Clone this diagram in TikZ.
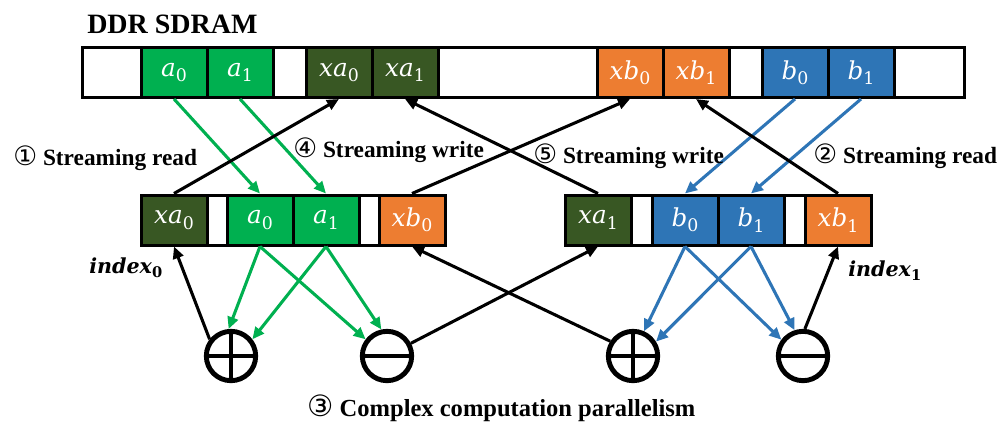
\documentclass[tikz,border=0pt]{standalone}
\usepackage{fontspec}
\setmainfont{Liberation Serif}
\newfontfamily\circfont{DejaVu Sans}
\newfontfamily\cellfont{DejaVu Serif}
\usetikzlibrary{arrows.meta}
\definecolor{cgreen}{HTML}{00B050}
\definecolor{cdkgreen}{HTML}{385723}
\definecolor{corange}{HTML}{ED7D31}
\definecolor{cblue}{HTML}{2E75B6}
\newcommand\cv[2]{{\cellfont\itshape #1}\raisebox{-0.22em}{\cellfont\fontsize{13}{15}\selectfont #2}}
\newcommand\idx[1]{{\cellfont\bfseries\itshape index}\raisebox{-0.22em}{\cellfont\bfseries\fontsize{11}{12}\selectfont #1}}
\newcommand\cd[2]{{\circfont\mdseries\fontsize{#1}{#1}\selectfont #2}}
\begin{document}
\begin{tikzpicture}[x=0.75pt,y=-0.75pt,
  cell/.style={draw=black, line width=2.25pt, minimum height=37.5pt, inner sep=0pt, text=white, font=\fontsize{18.5}{22}\selectfont},
  cw/.style={minimum width=#1*0.75pt},
  wcell/.style={cell, fill=white},
  gcell/.style={cell, fill=cgreen, cw=66},
  dcell/.style={cell, fill=cdkgreen, cw=66},
  ocell/.style={cell, fill=corange, cw=66},
  bcell/.style={cell, fill=cblue, cw=66},
  conn/.style={line width=2.3pt, -{Triangle[length=9pt,width=8pt]}},
  gconn/.style={conn, draw=cgreen},
  bconn/.style={conn, draw=cblue},
  kconn/.style={conn, draw=black},
  op/.style={circle, draw=black, line width=3.7pt, minimum size=37pt, inner sep=0pt},
  opline/.style={line width=3.7pt},
  lbl/.style={font=\fontsize{17.5}{21}\selectfont\bfseries, anchor=base west, inner sep=0pt},
  ilbl/.style={font=\fontsize{15.5}{18}\selectfont, anchor=base west, inner sep=0pt}]
\useasboundingbox (0,0) rectangle (1000,422);

% top row
\node[wcell, cw=59] (tw1) at (111.5,72.5) {};
\node[gcell] (ta0) at (174,72.5) {\cv{a}{0}};
\node[gcell] (ta1) at (240,72.5) {\cv{a}{1}};
\node[wcell, cw=33] (tw2) at (289.5,72.5) {};
\node[dcell] (txa0) at (339,72.5) {\cv{xa}{0}};
\node[dcell] (txa1) at (405,72.5) {\cv{xa}{1}};
\node[wcell, cw=159] (tw3) at (517.5,72.5) {};
\node[ocell] (txb0) at (630,72.5) {\cv{xb}{0}};
\node[ocell] (txb1) at (696,72.5) {\cv{xb}{1}};
\node[wcell, cw=33] (tw4) at (745.5,72.5) {};
\node[bcell] (tb0) at (795,72.5) {\cv{b}{0}};
\node[bcell] (tb1) at (861,72.5) {\cv{b}{1}};
\node[wcell, cw=70] (tw5) at (929,72.5) {};

% middle left
\node[dcell] (mxa0) at (174,220) {\cv{xa}{0}};
\node[wcell, cw=20] (mw1) at (217,220) {};
\node[gcell] (ma0) at (260,220) {\cv{a}{0}};
\node[gcell] (ma1) at (326,220) {\cv{a}{1}};
\node[wcell, cw=20] (mw2) at (369,220) {};
\node[ocell] (mxb0) at (412,220) {\cv{xb}{0}};

% middle right
\node[dcell] (mxa1) at (598,220) {\cv{xa}{1}};
\node[wcell, cw=21] (mw3) at (641.5,220) {};
\node[bcell] (mb0) at (685,220) {\cv{b}{0}};
\node[bcell] (mb1) at (751,220) {\cv{b}{1}};
\node[wcell, cw=21] (mw4) at (794.5,220) {};
\node[ocell] (mxb1) at (838,220) {\cv{xb}{1}};

% operators
\node[op] (p1) at (231,356) {};
\node[op] (m1) at (387,356) {};
\node[op] (p2) at (633,356) {};
\node[op] (m2) at (803,356) {};
\draw[opline] (p1.center) ++(0,-24.6) -- ++(0,49.2);
\draw[opline] (p1.center) ++(-24.6,0) -- ++(49.2,0);
\draw[opline] (m1.center) ++(-24.6,0) -- ++(49.2,0);
\draw[opline] (p2.center) ++(0,-24.6) -- ++(0,49.2);
\draw[opline] (p2.center) ++(-24.6,0) -- ++(49.2,0);
\draw[opline] (m2.center) ++(-24.6,0) -- ++(49.2,0);

% top <-> middle
\draw[gconn] (ta0.south) -- (ma0.north);
\draw[gconn] (ta1.south) -- (ma1.north);
\draw[bconn] (tb0.south) -- (mb0.north);
\draw[bconn] (tb1.south) -- (mb1.north);
\draw[kconn] (mxa0.north) -- (txa0.south);
\draw[kconn] (mxb0.north) -- (txb0.south);
\draw[kconn] (mxa1.north) -- (txa1.south);
\draw[kconn] (mxb1.north) -- (txb1.south);

% middle <-> operators
\draw[gconn] (ma0.south) -- (p1.95);
\draw[gconn] (ma0.south) -- (m1.142);
\draw[gconn] (ma1.south) -- (p1.38);
\draw[gconn] (ma1.south) -- (m1.102);
\draw[bconn] (mb0.south) -- (p2.66);
\draw[bconn] (mb0.south) -- (m2.143);
\draw[bconn] (mb1.south) -- (p2.32);
\draw[bconn] (mb1.south) -- (m2.108);
\draw[kconn] (p1.142) -- (mxa0.south);
\draw[kconn] (m1.28) -- (mxa1.south);
\draw[kconn] (p2.147) -- (mxb0.south);
\draw[kconn] (m2.86) -- (mxb1.south);

% labels
\node[lbl, font=\fontsize{21}{25}\selectfont\bfseries] (title) at (87,33) {DDR SDRAM};
\node[lbl] (l1) at (13,165) {\cd{20}{①} Streaming read};
\node[lbl] (l4) at (293,157) {\cd{20}{④} Streaming write};
\node[lbl] (l5) at (533,163) {\cd{20}{⑤} Streaming write};
\node[lbl] (l2) at (813,163) {\cd{20}{②} Streaming read};
\node[lbl, font=\fontsize{18.4}{22}\selectfont\bfseries] (l3) at (307,416) {\cd{22}{③} Complex computation parallelism};
\node[ilbl] (i0) at (89,273) {\idx{0}};
\node[ilbl] (i1) at (848,276) {\idx{1}};
\end{tikzpicture}
\end{document}
